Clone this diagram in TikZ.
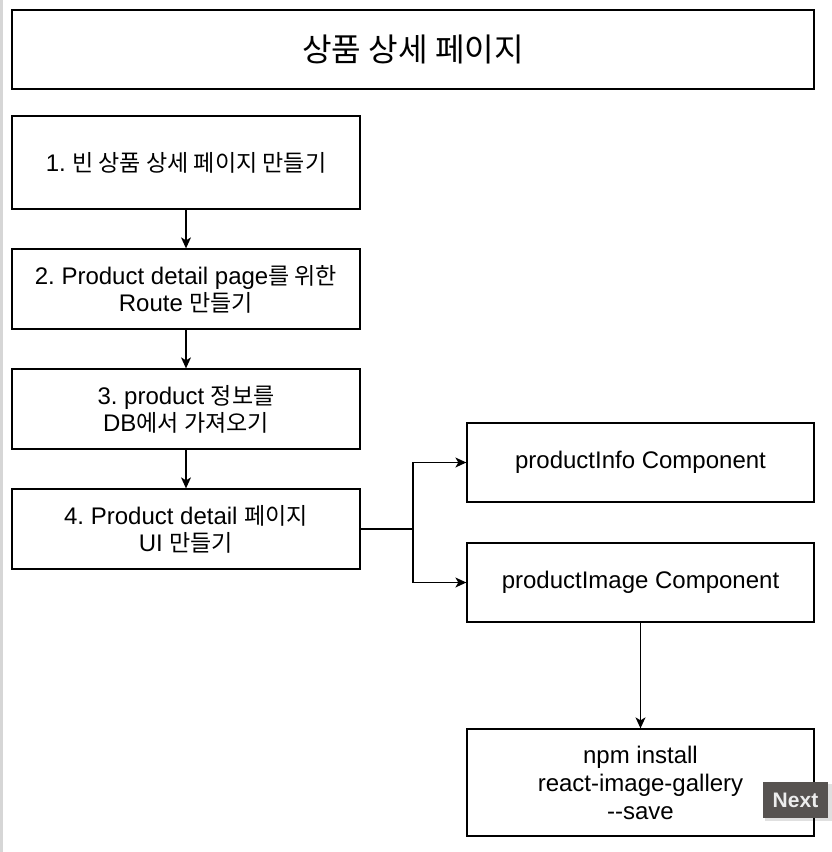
\documentclass[tikz,border=0pt]{standalone}
\usepackage{fontspec}
\setmainfont{Liberation Sans}
\newfontfamily\kr[Scale=0.96]{Noto Sans CJK KR}
\usetikzlibrary{arrows.meta}
\definecolor{btn}{HTML}{575351}
\definecolor{strip}{HTML}{D6D6D6}
\definecolor{btntext}{HTML}{EDEDED}
\frenchspacing
\begin{document}
\begin{tikzpicture}[x=1pt,y=-1pt,
  box/.style={draw=black, line width=1.3pt, minimum width=348pt, minimum height=80pt,
    inner sep=0pt, align=center, font=\fontsize{24}{27}\selectfont},
  arr/.style={line width=1.3pt, -{Stealth[length=11pt,width=10pt,inset=3pt]}},
  conn/.style={line width=1.3pt}]
\fill[white] (0,0) rectangle (832,852);
\useasboundingbox (0,0) rectangle (832,852);
\fill[strip] (0,0) rectangle (3,852);

\node[box, minimum width=802pt, minimum height=79pt, font=\fontsize{33.5}{38}\selectfont] (title) at (413,49.5) {\kr 상품 상세 페이지};

\node[box, minimum height=93pt] (b1) at (186,162.5) {1. {\kr 빈 상품 상세 페이지 만들기}};
\node[box] (b2) at (186,289) {2. Product detail page{\kr 를 위한}\\Route {\kr 만들기}};
\node[box] (b3) at (186,409) {3. product {\kr 정보를}\\DB{\kr 에서 가져오기}};
\node[box] (b4) at (186,529) {4. Product detail {\kr 페이지}\\UI {\kr 만들기}};

\node[box, minimum width=347pt, minimum height=79pt] (info) at (640.5,462.5) {productInfo Component};
\node[box, minimum width=347pt, minimum height=79pt] (img) at (640.5,582.5) {productImage Component};
\node[box, minimum width=347pt, minimum height=107pt, font=\fontsize{24}{28}\selectfont] (npm) at (640.5,782.5) {npm install\\react-image-gallery\\-{}-save};

\draw[arr] (b1.south) -- (b2.north);
\draw[arr] (b2.south) -- (b3.north);
\draw[arr] (b3.south) -- (b4.north);
\coordinate (j) at (413,529);
\draw[conn] (b4.east) -- (j);
\draw[arr] (j) |- (info.west);
\draw[arr] (j) |- (img.west);
\draw[arr] (img.south) -- (npm.north);

\fill[black, opacity=0.12] (765,784) rectangle (832,821);
\node[fill=btn, minimum width=65pt, minimum height=36pt, inner sep=0pt, text=btntext,
  font=\bfseries\fontsize{21}{21}\selectfont] (next) at (795.5,800) {Next};
\end{tikzpicture}
\end{document}
